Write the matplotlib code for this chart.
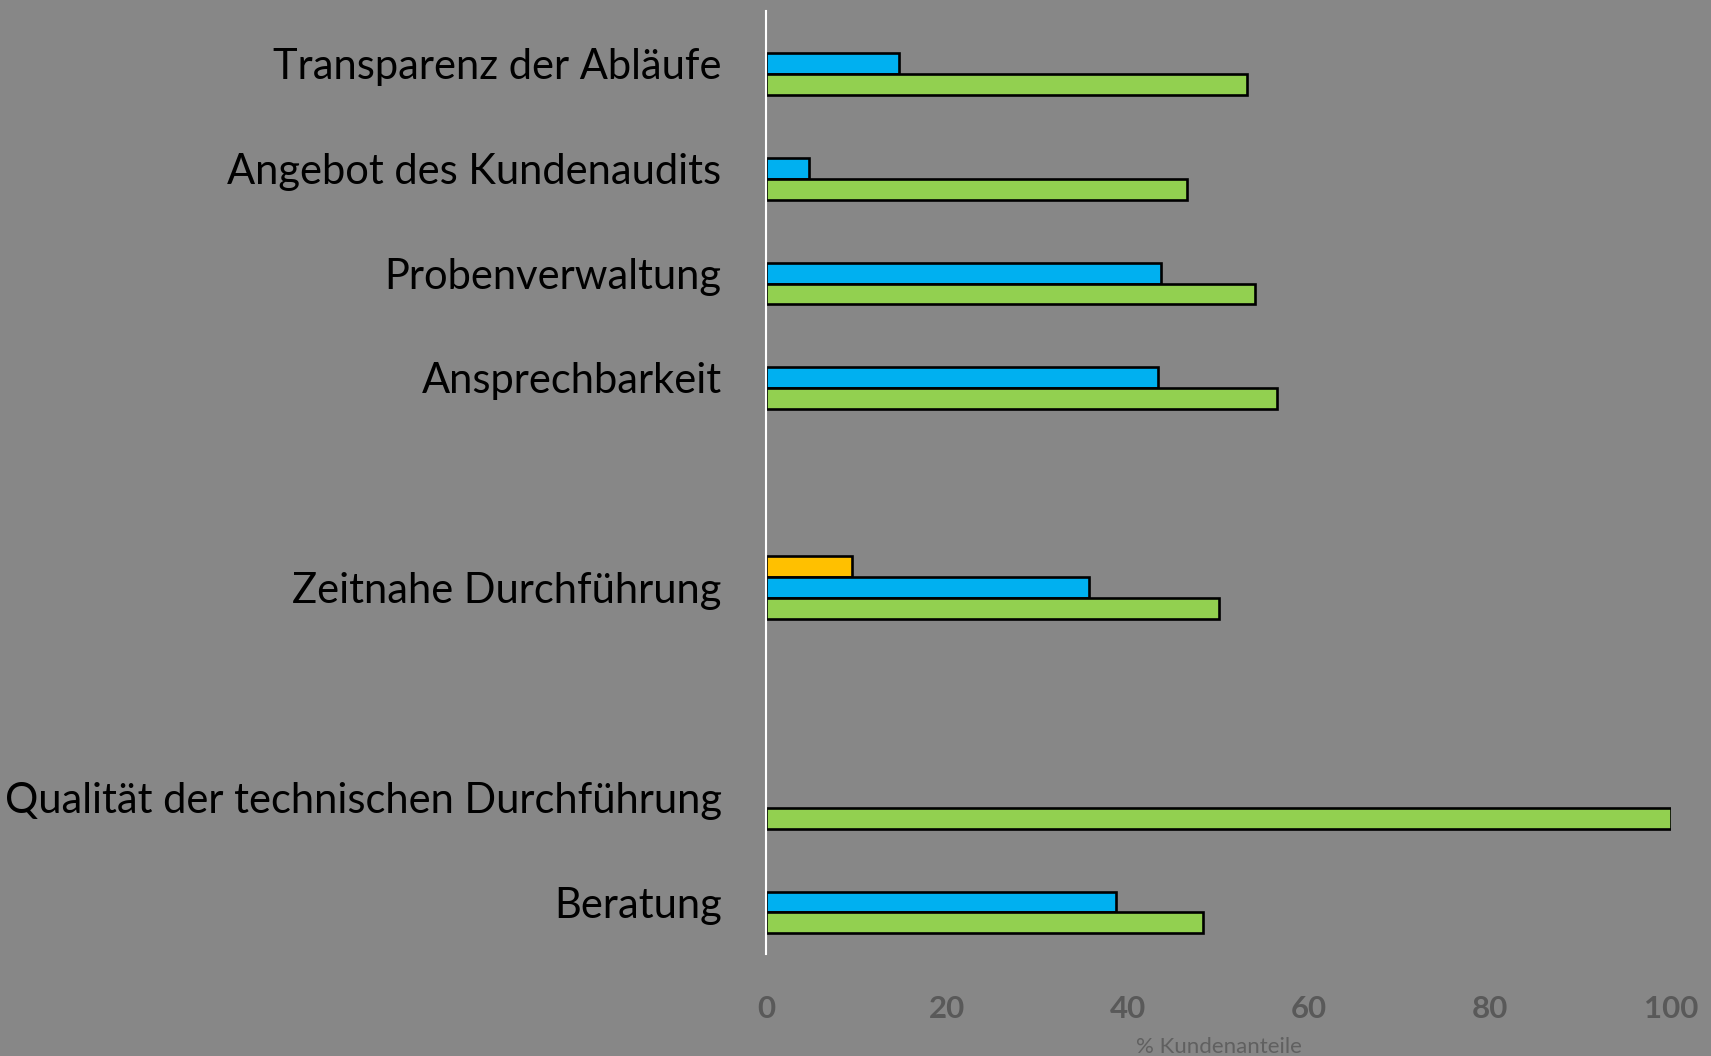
import numpy as np
import matplotlib
matplotlib.use("Agg")
import matplotlib.pyplot as plt


# categories from top to bottom, '' marks an empty slot in the chart
categories = [
    "Transparenz der Abläufe",
    "Angebot des Kundenaudits",
    "Probenverwaltung",
    "Ansprechbarkeit",
    "",
    "Zeitnahe Durchführung",
    "",
    "Qualität der technischen Durchführung",
    "Beratung",
]

# percentages per category (nan = no bar)
orange_vals = [np.nan, np.nan, np.nan, np.nan, np.nan, 9.5, np.nan, np.nan, np.nan]
blue_vals = [14.7, 4.8, 43.6, 43.3, np.nan, 35.7, np.nan, np.nan, 38.7]
green_vals = [53.1, 46.5, 54.0, 56.5, np.nan, 50.1, np.nan, 100.0, 48.3]

x_ticks = [0, 20, 40, 60, 80, 100]
x_label = "% Kundenanteile"

bg = "#878787"
bar_h = 0.2

fig = plt.figure(figsize=(17.11, 10.56), dpi=100, facecolor=bg)
ax = fig.add_axes([0.4477, 0.0962, 0.5289, 0.8934])
ax.set_facecolor(bg)

pos = np.arange(len(categories))

series = [
    (orange_vals, "#FFC000", -1),
    (blue_vals, "#00B0F0", 0),
    (green_vals, "#92D050", 1),
]

for vals, color, off in series:
    vals = np.array(vals, dtype=float)
    keep = ~np.isnan(vals)
    ax.barh(
        pos[keep] + off * bar_h,
        vals[keep],
        height=bar_h,
        color=color,
        edgecolor="black",
        linewidth=1.9,
    )

ax.set_xlim(0, 100)
ax.set_ylim(len(categories) - 0.5, -0.5)

ax.set_yticks(pos)
ax.set_yticklabels(categories, fontsize=30, family=["Lato", "DejaVu Sans"], color="black")

ax.set_xticks(x_ticks)
ax.set_xticklabels(
    [str(t) for t in x_ticks],
    fontsize=22.5,
    fontweight="bold",
    family=["Lato", "DejaVu Sans"],
    color="#595959",
)

ax.tick_params(axis="both", length=0)
ax.tick_params(axis="y", pad=32)
ax.tick_params(axis="x", pad=29)

ax.set_xlabel(x_label, fontsize=16, family=["Lato", "DejaVu Sans"], color="#606060", labelpad=10)

for side in ["top", "right", "bottom"]:
    ax.spines[side].set_visible(False)
ax.spines["left"].set_color("white")
ax.spines["left"].set_linewidth(1.5)

fig.savefig("out.png", dpi=100, facecolor=bg)
